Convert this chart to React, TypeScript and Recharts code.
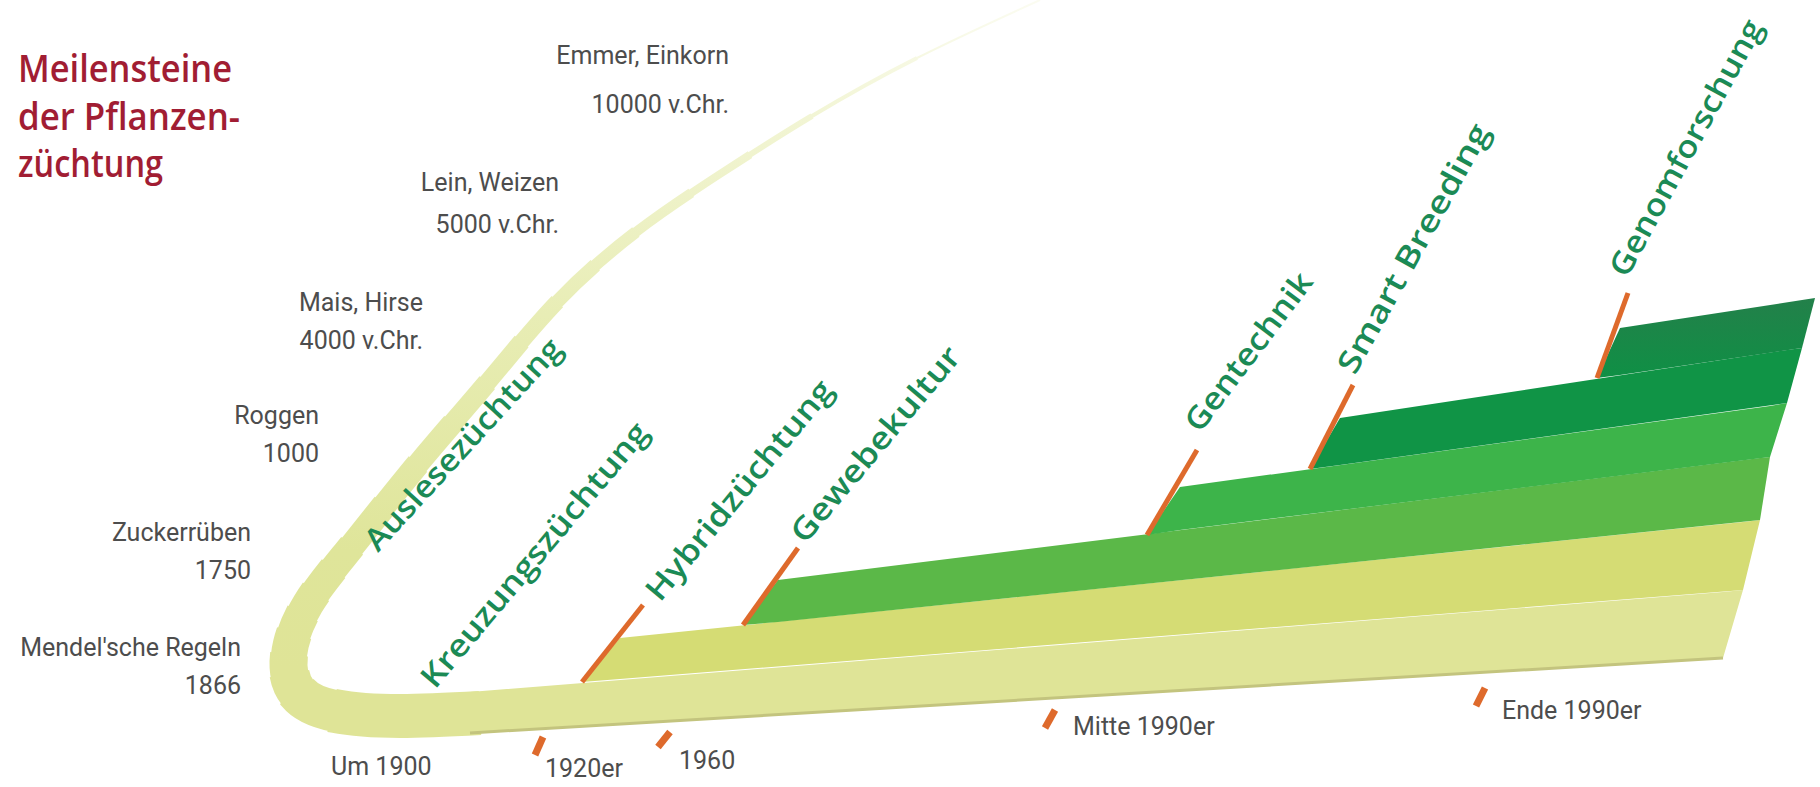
import { ComposedChart, Area, Line, XAxis, YAxis, ReferenceLine } from 'recharts';

const W = 1820;
const H = 787;

// Swoosh (Auslesezüchtung bis 1900): centre line as timeline position / level
const swooshPos = [1040, 917, 812, 720, 636, 557, 487, 418, 352, 308, 289, 298, 335, 400, 480];
const swooshLevel = [787, 729, 671, 613, 555, 485, 404, 323, 241, 183, 132, 94, 76, 71, 74];
// band width profile: distance along the curve -> width
const swooshDist = [0, 136, 256, 365, 467, 572, 679, 786, 891, 964, 1018, 1057, 1098];
const swooshWidth = [2, 4, 6, 9, 12, 16, 20, 24, 28, 33, 38, 42, 44];

// Layers: [position, lower level, upper level] at each corner
const paleBand = [[470, 54, 95], [1723, 129, 195], [1743, 197, 197]];
const hybridBand = [[582, 105, 105], [620, 108, 149], [1743, 197, 265], [1760, 267, 267]];
const gewebeBand = [[743, 162, 162], [778, 165, 207], [1760, 267, 329], [1770, 330, 330]];
const gentechBand = [[1147, 252, 252], [1180, 257, 300], [1770, 330, 381], [1787, 384, 384]];
const smartBand = [[1310, 318, 318], [1340, 322, 369], [1787, 384, 437], [1802, 439, 439]];
const genomBand = [[1597, 409, 409], [1620, 412, 459], [1802, 439, 487], [1815, 489, 489]];

// milestone marks: [from pos, from level, to pos, to level]
const milestoneTicks = [
  [582, 105, 643, 182],
  [743, 162, 798, 239],
  [1147, 252, 1197, 337],
  [1310, 318, 1353, 402],
  [1597, 409, 1628, 494],
];
const eraTicks = [
  [543, 50, 535, 32],
  [670, 55, 658, 40],
  [1055, 77, 1045, 59],
  [1485, 99, 1476, 81],
];

const milestones = [
  'Auslesezüchtung',
  'Kreuzungszüchtung',
  'Hybridzüchtung',
  'Gewebekultur',
  'Gentechnik',
  'Smart Breeding',
  'Genomforschung',
];
const crops = [
  ['Emmer, Einkorn', '10000 v.Chr.'],
  ['Lein, Weizen', '5000 v.Chr.'],
  ['Mais, Hirse', '4000 v.Chr.'],
  ['Roggen', '1000'],
  ['Zuckerrüben', '1750'],
  ["Mendel'sche Regeln", '1866'],
];
const eras = ['Um 1900', '1920er', '1960', 'Mitte 1990er', 'Ende 1990er'];

const layers = [
  { key: 'pale', rows: paleBand, fill: '#dfe497' },
  { key: 'hybrid', rows: hybridBand, fill: '#d5dc74' },
  { key: 'gewebe', rows: gewebeBand, fill: '#5bb848' },
  { key: 'gentech', rows: gentechBand, fill: '#3db44a' },
  { key: 'smart', rows: smartBand, fill: '#109446' },
  { key: 'genom', rows: genomBand, fill: 'url(#genomFill)' },
];

// label placement (baseline start, angle, length)
const milestoneLayout = [
  { x: 378, y: 553, a: 47.5, len: 275 },
  { x: 435, y: 690, a: 50, len: 335 },
  { x: 660, y: 603, a: 50.5, len: 275 },
  { x: 805, y: 545, a: 50, len: 245 },
  { x: 1200, y: 434, a: 53, len: 190 },
  { x: 1355, y: 376, a: 61, len: 280 },
  { x: 1627, y: 279, a: 61.5, len: 287 },
];
const cropLayout = [
  { x: 729, y: [64, 113] },
  { x: 559, y: [191, 233] },
  { x: 423, y: [311, 349] },
  { x: 319, y: [424, 462] },
  { x: 251, y: [541, 579] },
  { x: 241, y: [656, 694] },
];
const eraLayout = [
  { x: 331, y: 775 },
  { x: 545, y: 777 },
  { x: 679, y: 769 },
  { x: 1073, y: 735 },
  { x: 1502, y: 719 },
];

const swooshPts = swooshPos.map((pos, i) => ({ pos, lv: swooshLevel[i] }));

// one stroke per 2px of width, each starting where the band reaches that width
const startAt = (w: number) => {
  for (let i = 1; i < swooshWidth.length; i++) {
    if (swooshWidth[i] >= w) {
      const t = (w - swooshWidth[i - 1]) / (swooshWidth[i] - swooshWidth[i - 1]);
      return swooshDist[i - 1] + t * (swooshDist[i] - swooshDist[i - 1]);
    }
  }
  return swooshDist[swooshDist.length - 1];
};
const strokes: { w: number; d: number }[] = [];
for (let w = 2; w <= 44; w += 2) strokes.push({ w, d: startAt(w) });

const grayFont = "Roboto, 'Liberation Sans', sans-serif";
const greenFont = "'Open Sans', 'Noto Sans', sans-serif";

export default function App() {
  return (
    <div style={{ position: 'absolute', left: 0, top: 0, width: W, height: H, background: '#fff' }}>
      <ComposedChart width={W} height={H} margin={{ top: 0, right: 0, bottom: 0, left: 0 }}>
        <defs>
          <linearGradient id="swoosh" x1="0" y1="0" x2="0" y2={H} gradientUnits="userSpaceOnUse">
            <stop offset="0" stopColor="#fbfcf1" />
            <stop offset="0.15" stopColor="#f2f5d4" />
            <stop offset="0.4" stopColor="#e8edb5" />
            <stop offset="0.7" stopColor="#dfe59a" />
            <stop offset="0.85" stopColor="#dfe497" />
            <stop offset="1" stopColor="#dfe497" />
          </linearGradient>
          <linearGradient id="genomFill" x1="0" y1="0" x2="0" y2="1">
            <stop offset="0" stopColor="#23804a" />
            <stop offset="1" stopColor="#0f9045" />
          </linearGradient>
        </defs>
        <XAxis type="number" dataKey="pos" domain={[0, W]} hide allowDataOverflow />
        <YAxis type="number" domain={[0, H]} hide allowDataOverflow />

        {strokes.map((s) => (
          <Line
            key={`sw${s.w}`}
            data={swooshPts}
            dataKey="lv"
            type="natural"
            stroke="url(#swoosh)"
            strokeWidth={s.w}
            strokeLinecap="butt"
            strokeDasharray={s.d > 0 ? `0 ${s.d.toFixed(1)} 4000` : undefined}
            dot={false}
            activeDot={false}
            isAnimationActive={false}
          />
        ))}

        {layers.map((l) => (
          <Area
            key={l.key}
            data={l.rows.map(([pos, lo, hi]) => ({ pos, band: [lo, hi] }))}
            dataKey="band"
            type="linear"
            stroke="none"
            fill={l.fill}
            fillOpacity={1}
            dot={false}
            activeDot={false}
            isAnimationActive={false}
          />
        ))}

        <ReferenceLine
          segment={[{ x: paleBand[0][0], y: paleBand[0][1] }, { x: paleBand[1][0], y: paleBand[1][1] }]}
          stroke="#c3c47e"
          strokeWidth={3}
        />
        {milestoneTicks.map(([x1, y1, x2, y2], i) => (
          <ReferenceLine
            key={`mt${i}`}
            segment={[{ x: x1, y: y1 }, { x: x2, y: y2 }]}
            stroke="#de6a2c"
            strokeWidth={5}
          />
        ))}
        {eraTicks.map(([x1, y1, x2, y2], i) => (
          <ReferenceLine
            key={`et${i}`}
            segment={[{ x: x1, y: y1 }, { x: x2, y: y2 }]}
            stroke="#de6a2c"
            strokeWidth={7}
          />
        ))}
      </ComposedChart>

      <svg width={W} height={H} style={{ position: 'absolute', left: 0, top: 0, pointerEvents: 'none' }}>
        <g fill="#a11d33" fontFamily={greenFont} fontWeight={600} fontSize={38}>
          <text x={18} y={82} textLength={214} lengthAdjust="spacingAndGlyphs">Meilensteine</text>
          <text x={18} y={130} textLength={222} lengthAdjust="spacingAndGlyphs">der Pflanzen-</text>
          <text x={18} y={177} textLength={145} lengthAdjust="spacingAndGlyphs">züchtung</text>
        </g>

        <g fill="#1b8a55" fontFamily={greenFont} fontWeight={600} fontSize={31}>
          {milestones.map((m, i) => {
            const p = milestoneLayout[i];
            return (
              <text
                key={m}
                x={p.x}
                y={p.y}
                transform={`rotate(${-p.a} ${p.x} ${p.y})`}
                textLength={p.len}
                lengthAdjust="spacingAndGlyphs"
              >
                {m}
              </text>
            );
          })}
        </g>

        <g fill="#4d4d4d" fontFamily={grayFont} fontSize={25} textAnchor="end">
          {crops.map(([a, b], i) => (
            <g key={a}>
              <text x={cropLayout[i].x} y={cropLayout[i].y[0]}>{a}</text>
              <text x={cropLayout[i].x} y={cropLayout[i].y[1]}>{b}</text>
            </g>
          ))}
        </g>

        <g fill="#4d4d4d" fontFamily={grayFont} fontSize={25}>
          {eras.map((e, i) => (
            <text key={e} x={eraLayout[i].x} y={eraLayout[i].y}>{e}</text>
          ))}
        </g>
      </svg>
    </div>
  );
}
